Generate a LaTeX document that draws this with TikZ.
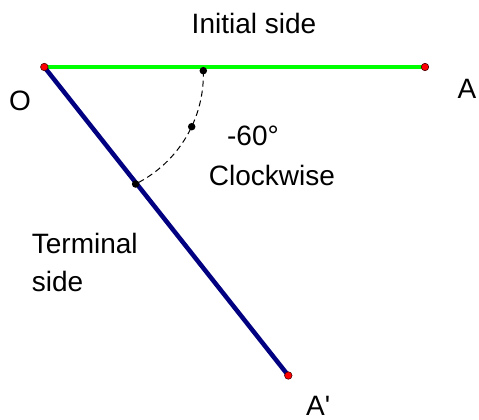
\documentclass[tikz,border=0pt]{standalone}
\usepackage{fontspec}
\setmainfont{Liberation Sans}
\definecolor{lgreen}{RGB}{0,255,0}
\definecolor{navyb}{RGB}{0,0,128}
\definecolor{ptred}{RGB}{255,0,0}
\begin{document}
\begin{tikzpicture}[x=1pt,y=-1pt,
  lbl/.style={inner sep=0pt,font=\fontsize{28}{38.4}\selectfont},
  blackdot/.style={circle,fill=black,inner sep=0pt,minimum size=7.5pt},
  reddot/.style={circle,fill=ptred,draw=black!70!red,line width=0.6pt,inner sep=0pt,minimum size=7.5pt},
  arcline/.style={line width=1pt,dash pattern=on 6pt off 4pt}]
\useasboundingbox (0,0) rectangle (479,420);
\coordinate (O) at (44.3,67);
\coordinate (A) at (425,67);
\coordinate (Ap) at (288.3,375.5);
\draw[lgreen,line width=4.2pt] (O) -- (A);
\draw[navyb,line width=4.5pt] (O) -- (Ap);
\node[blackdot] (s) at (203.3,70.7) {};
\node[blackdot] (m) at (191.7,126.7) {};
\node[blackdot] (e) at (135.6,184.0) {};
\draw[arcline] (s.center) arc[start angle=-1.8,end angle=63.5,radius=122.3];
\node[reddot] (Odot) at (O) {};
\node[reddot] (Adot) at (A) {};
\node[reddot] (Apdot) at (Ap) {};
\node[lbl,anchor=base] (tinit) at (254,33.3) {Initial side};
\node[lbl,anchor=base] (tO) at (20,110.3) {O};
\node[lbl,anchor=base] (tA) at (467,98.3) {A};
\node[lbl,anchor=base west] (tAp) at (306,415.5) {A\textquotesingle};
\node[lbl,anchor=base] (tang) at (253,145) {-60°};
\node[lbl,anchor=base] (tcw) at (272,185) {Clockwise};
\node[lbl,anchor=base west,align=left] (tterm) at (31.7,291.7) {Terminal\\side};
\end{tikzpicture}
\end{document}
